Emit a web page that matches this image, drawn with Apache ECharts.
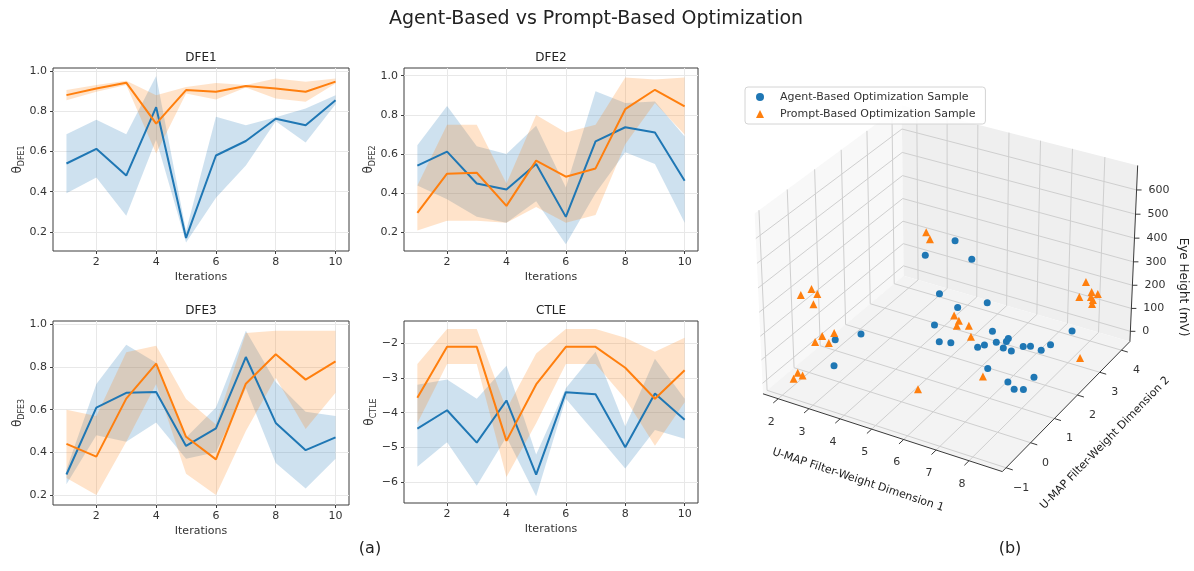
<!DOCTYPE html>
<html>
<head>
<meta charset="utf-8">
<script src="https://cdn.jsdelivr.net/npm/echarts@6.0.0/dist/echarts.min.js"></script>
<style>
html,body{margin:0;padding:0;background:#ffffff;}
#chart{width:1194px;height:571px;}
</style>
</head>
<body>
<div id="chart"></div>
<script>
// ================= DATA : panel (a) =================
const iterations = [1,2,3,4,5,6,7,8,9,10];
const iterTicks  = [2,4,6,8,10];
const thetaTicks = [0.2,0.4,0.6,0.8,1.0];
const ctleTicks  = [-6,-5,-4,-3,-2];

const dfe1AgentMean  = [0.54,0.613,0.48,0.82,0.17,0.58,0.652,0.763,0.73,0.855];
const dfe1AgentUp    = [0.685,0.758,0.685,0.975,0.205,0.772,0.73,0.77,0.813,0.88];
const dfe1AgentLo    = [0.392,0.47,0.28,0.66,0.147,0.37,0.53,0.75,0.645,0.835];
const dfe1PromptMean = [0.88,0.913,0.942,0.738,0.905,0.897,0.925,0.913,0.897,0.947];
const dfe1PromptUp   = [0.905,0.93,0.952,0.88,0.92,0.94,0.93,0.963,0.947,0.963];
const dfe1PromptLo   = [0.855,0.897,0.93,0.59,0.888,0.858,0.918,0.863,0.847,0.938];

const dfe2AgentMean  = [0.541,0.613,0.45,0.42,0.55,0.28,0.665,0.737,0.71,0.464];
const dfe2AgentUp    = [0.645,0.845,0.64,0.60,0.745,0.43,0.92,0.86,0.868,0.69];
const dfe2AgentLo    = [0.44,0.37,0.28,0.25,0.36,0.14,0.40,0.61,0.55,0.25];
const dfe2PromptMean = [0.30,0.50,0.505,0.336,0.567,0.485,0.527,0.829,0.928,0.843];
const dfe2PromptUp   = [0.44,0.75,0.75,0.45,0.80,0.71,0.75,0.99,0.98,0.99];
const dfe2PromptLo   = [0.21,0.26,0.26,0.25,0.33,0.25,0.29,0.65,0.86,0.70];

const dfe3AgentMean  = [0.296,0.61,0.679,0.683,0.43,0.512,0.847,0.538,0.41,0.47];
const dfe3AgentUp    = [0.32,0.72,0.905,0.82,0.47,0.61,0.97,0.73,0.59,0.57];
const dfe3AgentLo    = [0.25,0.48,0.45,0.54,0.37,0.40,0.70,0.35,0.23,0.37];
const dfe3PromptMean = [0.44,0.38,0.652,0.816,0.473,0.367,0.722,0.86,0.741,0.827];
const dfe3PromptUp   = [0.60,0.57,0.87,0.90,0.65,0.53,0.96,0.97,0.97,0.97];
const dfe3PromptLo   = [0.28,0.20,0.45,0.72,0.30,0.20,0.50,0.75,0.51,0.68];

const ctleAgentMean  = [-4.46,-3.93,-4.86,-3.65,-5.78,-3.41,-3.47,-4.99,-3.45,-4.2];
const ctleAgentUp    = [-3.2,-3.05,-3.6,-2.65,-5.2,-3.3,-2.25,-4.4,-2.45,-3.6];
const ctleAgentLo    = [-5.55,-4.85,-6.1,-4.7,-6.4,-3.6,-4.6,-5.6,-4.5,-4.75];
const ctlePromptMean = [-3.57,-2.11,-2.11,-4.81,-3.19,-2.11,-2.11,-2.71,-3.6,-2.78];
const ctlePromptUp   = [-2.6,-1.6,-1.6,-3.9,-2.3,-1.6,-1.6,-1.85,-2.25,-1.85];
const ctlePromptLo   = [-4.3,-2.6,-2.6,-5.85,-4.3,-2.6,-2.6,-3.6,-4.95,-3.7];

// ================= DATA : panel (b) =================
const dim1Ticks = [2,3,4,5,6,7,8];
const dim2Ticks = [-1,0,1,2,3,4];
const eyeTicks  = [0,100,200,300,400,500,600];

const agentDim1 = [4.77,4.33,5.35,4.55,5.05,5.82,4.52,4.84,5.15,6.03,6.14,6.21,6.41,6.75,6.78,6.67,6.88,7.22,7.39,7.69,7.94,8.23,6.58,7.34,7.61,7.83,7.95,2.86,2.34,2.71];
const agentDim2 = [2.46,1.81,2.40,2.10,2.21,2.44,1.93,1.72,1.80,1.77,1.91,2.15,2.05,2.02,2.06,2.00,2.06,2.10,2.18,2.23,2.28,2.81,1.47,1.30,1.20,1.29,1.57,1.02,0.63,0.14];
const agentEye  = [400,380,350,200,150,180,80,40,40,60,60,100,70,90,100,60,50,80,80,70,100,120,20,10,0,0,30,60,50,0];

const promptDim1 = [4.18,4.33,1.97,2.19,2.33,2.32,2.60,2.87,2.47,2.89,2.17,2.30,2.11,5.34,5.31,5.50,5.52,5.81,5.96,6.55,8.69,8.02,8.18,8.38,8.01,8.23,8.30,8.32];
const promptDim2 = [2.04,2.00,-0.17,-0.02,0.03,-0.11,-0.14,0.00,-0.26,-0.23,-0.60,-0.57,-0.69,0.23,1.73,1.68,1.57,1.69,1.58,1.31,2.53,3.69,3.73,3.72,3.42,3.63,3.62,3.56];
const promptEye  = [450,430,300,320,300,270,150,160,130,140,20,10,0,0,170,160,150,150,120,0,50,240,200,200,200,190,180,170];

// ================= STYLE / LAYOUT =================
const FONT = 'DejaVu Sans';
const BLUE = '#1f77b4', ORANGE = '#ff7f0e';
const BLUE_BAND = 'rgba(31,119,180,0.22)', ORANGE_BAND = 'rgba(255,127,14,0.22)';
const TXT = '#333333';

// 3D view (matplotlib-like perspective, elev 30, azim -60)
const D1_LIM = [1.5, 9.0], D2_LIM = [-1.15, 4.4], Z_LIM = [-45, 700];
const BOX = [8/7, 8/7, 6/7];
const ELEV = 30*Math.PI/180, AZIM = -60*Math.PI/180, DIST = 10;
const W = [Math.cos(ELEV)*Math.cos(AZIM), Math.cos(ELEV)*Math.sin(AZIM), Math.sin(ELEV)];
const U = (function(){ const c=[-W[1], W[0], 0]; const n=Math.hypot(c[0],c[1]); return [c[0]/n, c[1]/n, 0]; })();
const V = [W[1]*U[2]-W[2]*U[1], W[2]*U[0]-W[0]*U[2], W[0]*U[1]-W[1]*U[0]];

function project(d1, d2, z){
  const X = (d1-D1_LIM[0])/(D1_LIM[1]-D1_LIM[0])*BOX[0] - BOX[0]/2;
  const Y = (d2-D2_LIM[0])/(D2_LIM[1]-D2_LIM[0])*BOX[1] - BOX[1]/2;
  const Z = (z-Z_LIM[0])/(Z_LIM[1]-Z_LIM[0])*BOX[2] - BOX[2]/2;
  const xv = U[0]*X + U[1]*Y + U[2]*Z;
  const yv = V[0]*X + V[1]*Y + V[2]*Z;
  const depth = DIST - (W[0]*X + W[1]*Y + W[2]*Z);
  return [xv/depth, yv/depth];
}

// ================= PANEL (a) =================
const grids = [
  {left:53,  top:68,  width:296, height:183},
  {left:404, top:68,  width:294, height:183},
  {left:53,  top:321, width:296, height:184},
  {left:404, top:321, width:294, height:182},
];
const yRanges = [[0.105,1.015],[0.106,1.039],[0.153,1.016],[-6.593,-1.368]];
const yNames = ['DFE1','DFE2','DFE3','CTLE'];
const panels = [
  [dfe1AgentMean,dfe1AgentUp,dfe1AgentLo,dfe1PromptMean,dfe1PromptUp,dfe1PromptLo],
  [dfe2AgentMean,dfe2AgentUp,dfe2AgentLo,dfe2PromptMean,dfe2PromptUp,dfe2PromptLo],
  [dfe3AgentMean,dfe3AgentUp,dfe3AgentLo,dfe3PromptMean,dfe3PromptUp,dfe3PromptLo],
  [ctleAgentMean,ctleAgentUp,ctleAgentLo,ctlePromptMean,ctlePromptUp,ctlePromptLo],
];

const gridOpt = grids.map(g => Object.assign({show:true, borderColor:'#3c3c3c', borderWidth:1, backgroundColor:'transparent'}, g));
gridOpt.push({left:740, top:60, width:454, height:480, show:false});

const xAxes = grids.map((g,i) => ({
  type:'value', gridIndex:i, min:0.55, max:10.45,
  axisLine:{show:false},
  axisTick:{show:true, length:3, lineStyle:{color:'#3c3c3c'}, customValues:iterTicks},
  axisLabel:{fontSize:11, color:TXT, fontFamily:FONT, margin:6, customValues:iterTicks},
  splitLine:{show:true, lineStyle:{color:'#e8e8e8', width:1}},
  name:'Iterations', nameLocation:'middle', nameGap:21,
  nameTextStyle:{fontSize:11, color:TXT, fontFamily:FONT}
}));
xAxes.push({type:'value', gridIndex:4, min:(740-949.7)/2400, max:(1194-949.7)/2400, show:false});

const yAxes = grids.map((g,i) => {
  const ticks = i===3 ? ctleTicks : thetaTicks;
  return {
    type:'value', gridIndex:i, min:yRanges[i][0], max:yRanges[i][1],
    axisLine:{show:false},
    axisTick:{show:true, length:3, lineStyle:{color:'#3c3c3c'}, customValues:ticks},
    axisLabel:{fontSize:11, color:TXT, fontFamily:FONT, margin:6, customValues:ticks,
      formatter: v => i===3 ? (v<0?'\u2212':'')+Math.abs(Math.round(v)) : Number(v).toFixed(1)},
    splitLine:{show:true, lineStyle:{color:'#e8e8e8', width:1}},
    name:'{t|θ}{s|'+yNames[i]+'}', nameLocation:'middle', nameGap:25,
    nameTextStyle:{rich:{
      t:{fontSize:12, color:TXT, fontFamily:FONT, lineHeight:13, verticalAlign:'top'},
      s:{fontSize:8, color:TXT, fontFamily:FONT, lineHeight:8, padding:[6,0,0,0], verticalAlign:'top'}
    }}
  };
});
yAxes.push({type:'value', gridIndex:4, min:(280-540)/2400, max:(280-60)/2400, show:false});

const series = [];
// confidence band drawn as one polygon through the axis scales
function band(idx, lo, up, color){
  series.push({type:'custom', xAxisIndex:idx, yAxisIndex:idx, silent:true, z:2,
    data: iterations.map((x,k)=>[x, lo[k], up[k]]),
    renderItem: function(params, api){
      if (params.dataIndex !== 0) return null;
      const top = iterations.map((x,k)=>api.coord([x, up[k]]));
      const bot = iterations.map((x,k)=>api.coord([x, lo[k]])).reverse();
      return {type:'polygon', shape:{points: top.concat(bot)}, style:{fill:color, stroke:null}};
    }
  });
}
function meanLine(idx, m, color){
  series.push({type:'line', xAxisIndex:idx, yAxisIndex:idx, symbol:'none', silent:true, z:5,
    lineStyle:{color:color, width:2}, data: iterations.map((x,k)=>[x, m[k]])});
}
panels.forEach((p,i) => {
  band(i, p[2], p[1], BLUE_BAND);
  band(i, p[5], p[4], ORANGE_BAND);
});
panels.forEach((p,i) => {
  meanLine(i, p[0], BLUE);
  meanLine(i, p[3], ORANGE);
});

// ================= PANEL (b) =================
function renderBox(params, api){
  const P = (a,b,c) => api.coord(project(a,b,c));
  const ch = [];
  const d1a=D1_LIM[0], d1b=D1_LIM[1], d2a=D2_LIM[0], d2b=D2_LIM[1], za=Z_LIM[0], zb=Z_LIM[1];
  const poly = (pts, fill) => ch.push({type:'polygon', shape:{points:pts.map(p=>P(p[0],p[1],p[2]))}, style:{fill:fill, stroke:null}});
  const line = (p1, p2, color, w) => { const a=P(p1[0],p1[1],p1[2]), b=P(p2[0],p2[1],p2[2]);
    ch.push({type:'line', shape:{x1:a[0],y1:a[1],x2:b[0],y2:b[1]}, style:{stroke:color, lineWidth:w}}); };
  const text = (x, y, s, align) => ch.push({type:'text', x:x, y:y,
    style:{text:s, fill:TXT, fontSize:11, fontFamily:FONT, align:align, verticalAlign:'middle', textAlign:align, textVerticalAlign:'middle'}});
  // panes
  poly([[d1a,d2a,za],[d1a,d2b,za],[d1a,d2b,zb],[d1a,d2a,zb]], '#f8f8f8'); // left wall
  poly([[d1a,d2b,za],[d1b,d2b,za],[d1b,d2b,zb],[d1a,d2b,zb]], '#efefef'); // back wall
  poly([[d1a,d2a,za],[d1b,d2a,za],[d1b,d2b,za],[d1a,d2b,za]], '#f3f3f3'); // floor
  const G = '#cfcfcf';
  dim1Ticks.forEach(t => { line([t,d2a,za],[t,d2b,za],G,1); line([t,d2b,za],[t,d2b,zb],G,1); });
  dim2Ticks.forEach(t => { line([d1a,t,za],[d1b,t,za],G,1); line([d1a,t,za],[d1a,t,zb],G,1); });
  eyeTicks.forEach(t => { line([d1a,d2a,t],[d1a,d2b,t],G,1); line([d1a,d2b,t],[d1b,d2b,t],G,1); });
  // axes
  const AX = '#3a3a3a';
  line([d1a,d2a,za],[d1b,d2a,za],AX,1);
  line([d1b,d2a,za],[d1b,d2b,za],AX,1);
  line([d1b,d2b,za],[d1b,d2b,zb],AX,1);
  dim1Ticks.forEach(t => {
    line([t,d2a,za],[t,d2a-0.18,za],AX,1);
    const p = P(t,d2a,za); text(p[0]-7, p[1]+23, String(t), 'center');
  });
  dim2Ticks.forEach(t => {
    line([d1b,t,za],[d1b+0.2,t,za],AX,1);
    const p = P(d1b,t,za); text(p[0]+15, p[1]+20, (t<0?'\u2212':'')+Math.abs(t), 'center');
  });
  eyeTicks.forEach(t => {
    const p = P(d1b,d2b,t);
    ch.push({type:'line', shape:{x1:p[0],y1:p[1],x2:p[0]+5,y2:p[1]}, style:{stroke:AX, lineWidth:1}});
    text(p[0]+12, p[1], String(t), 'left');
  });
  return {type:'group', children:ch};
}

series.push({type:'custom', name:'box', xAxisIndex:4, yAxisIndex:4, silent:true, z:1,
  renderItem:renderBox, data:[[0,0]]});

series.push({type:'scatter', name:'Agent-Based Optimization Sample', xAxisIndex:4, yAxisIndex:4, z:3, silent:true,
  symbol:'circle', symbolSize:7, itemStyle:{color:BLUE, opacity:1},
  data: agentDim1.map((d,k)=>project(d, agentDim2[k], agentEye[k]))});
series.push({type:'scatter', name:'Prompt-Based Optimization Sample', xAxisIndex:4, yAxisIndex:4, z:3, silent:true,
  symbol:'triangle', symbolSize:8, itemStyle:{color:ORANGE, opacity:1},
  data: promptDim1.map((d,k)=>project(d, promptDim2[k], promptEye[k]))});

function gtext(x, y, s, size, rot){
  return {type:'text', x:x, y:y, rotation:rot||0, z:10,
    style:{text:s, fill:'#222', fontSize:size, fontFamily:FONT, align:'center', verticalAlign:'middle', textAlign:'center', textVerticalAlign:'middle'}};
}

const option = {
  animation:false,
  backgroundColor:'#ffffff',
  grid:gridOpt, xAxis:xAxes, yAxis:yAxes, series:series,
  legend:{
    data:[{name:'Agent-Based Optimization Sample', icon:'circle'},{name:'Prompt-Based Optimization Sample', icon:'triangle'}],
    orient:'vertical', left:745, top:87, itemWidth:8, itemHeight:8, itemGap:3,
    padding:[3,10,3,11], backgroundColor:'rgba(255,255,255,0.85)', borderColor:'#d4d4d4', borderWidth:1, borderRadius:3,
    textStyle:{fontSize:11, fontFamily:FONT, color:TXT, lineHeight:14, padding:[0,0,0,11]},
    selectedMode:false
  },
  graphic:[
    gtext(596, 19, 'Agent-Based vs Prompt-Based Optimization', 19),
    gtext(201, 58, 'DFE1', 12), gtext(551, 58, 'DFE2', 12),
    gtext(201, 311, 'DFE3', 12), gtext(551, 311, 'CTLE', 12),
    gtext(370, 549, '(a)', 16), gtext(1010, 549, '(b)', 16),
    gtext(858, 480, 'U-MAP Filter-Weight Dimension 1', 11, -0.32),
    gtext(1105, 443, 'U-MAP Filter-Weight Dimension 2', 11, 0.80),
    gtext(1183, 287, 'Eye Height (mV)', 12, -Math.PI/2)
  ]
};

const chart = echarts.init(document.getElementById('chart'), null, {renderer:'canvas'});
chart.setOption(option);
</script>
</body>
</html>
